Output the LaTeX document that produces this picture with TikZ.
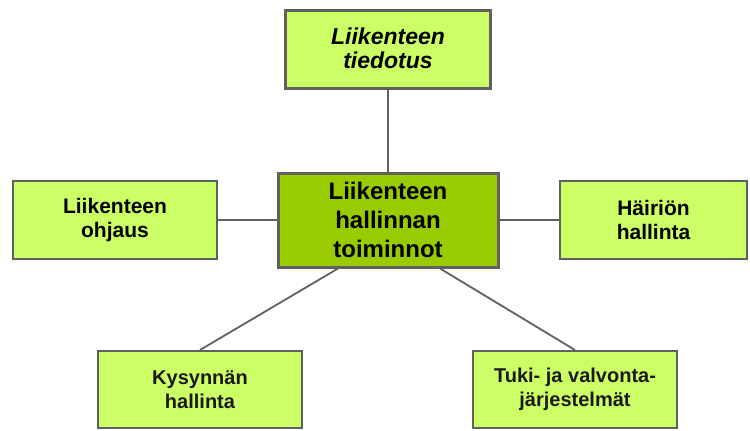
\documentclass[tikz,border=0pt]{standalone}
\usepackage{fontspec}
\setmainfont{Liberation Sans}
\definecolor{boxlight}{HTML}{CCFF66}
\definecolor{boxdark}{HTML}{99CC00}
\definecolor{edge}{HTML}{606060}
\definecolor{txt}{HTML}{1A1A1A}
\tikzset{
  x=1bp, y=-1bp,
  box/.style={rectangle, draw=edge, fill=boxlight, line width=2bp, inner sep=0pt,
    minimum width=204bp, minimum height=78bp, align=center, text=txt,
    font=\fontsize{21bp}{24bp}\selectfont\bfseries},
  bigbox/.style={box, line width=3bp},
  conn/.style={draw=edge, line width=2.5bp},
  thinconn/.style={draw=edge, line width=1.8bp}
}
\begin{document}
\begin{tikzpicture}
\useasboundingbox (0,0) rectangle (750,430);
\node[bigbox, minimum width=205bp, text=black, font=\fontsize{23bp}{24bp}\selectfont\bfseries\itshape] (t) at (388,49.5) {Liikenteen\\tiedotus\rule[-3bp]{0pt}{3bp}};
\node[bigbox, fill=boxdark, minimum width=220bp, minimum height=94bp, text=black, font=\fontsize{24bp}{29bp}\selectfont\bfseries] (c) at (388,220) {Liikenteen\\hallinnan\\toiminnot};
\node[box, text=black] (l) at (115,220) {Liikenteen\\ohjaus};
\node[box, minimum width=187bp, text=black] (r) at (653.5,220) {Häiriön\\hallinta};
\node[box, minimum height=77bp, font=\fontsize{20bp}{24bp}\selectfont\bfseries] (bl) at (200,389.5) {Kysynnän\\hallinta};
\node[box, minimum height=77bp, font=\fontsize{20bp}{24bp}\selectfont\bfseries] (br) at (575,389.5) {Tuki- ja valvonta-\\järjestelmät};
\draw[conn] (t.south) -- (c.north);
\draw[conn] (l.east) -- (c.west);
\draw[conn] (c.east) -- (r.west);
\draw[thinconn] ([xshift=-50bp]c.south) -- (bl.north);
\draw[thinconn] ([xshift=52bp]c.south) -- (br.north);
\end{tikzpicture}
\end{document}
